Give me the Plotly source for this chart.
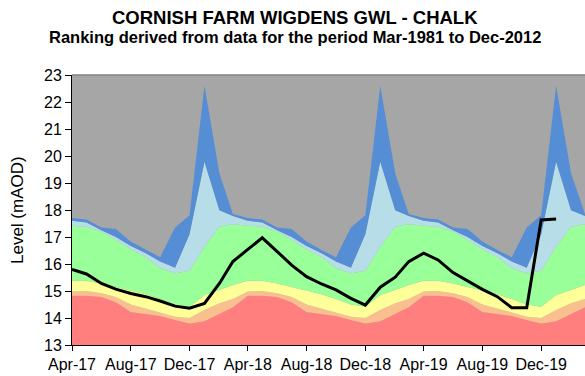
import pandas as pd
import plotly.graph_objects as go

# Monthly dates covered by the chart
band_months = pd.date_range("2017-04-01", "2020-03-01", freq="MS")
level_months = pd.date_range("2017-04-01", "2020-01-01", freq="MS")

# Percentile band upper limits by calendar month (Jan..Dec), mAOD
red_top = [13.88, 14.15, 14.40, 14.82, 14.82, 14.78, 14.58, 14.22, 14.15, 14.07, 13.93, 13.80]
salmon_top = [14.30, 14.55, 14.70, 14.98, 15.00, 14.92, 14.78, 14.50, 14.35, 14.20, 14.05, 14.00]
yellow_top = [14.85, 15.04, 15.22, 15.38, 15.38, 15.28, 15.15, 15.02, 14.88, 14.70, 14.50, 14.42]
green_top = [16.64, 17.38, 17.47, 17.42, 17.38, 17.20, 16.90, 16.55, 16.25, 15.85, 15.65, 15.75]
lightblue_top = [19.79, 17.99, 17.78, 17.60, 17.54, 17.25, 17.00, 16.67, 16.40, 16.09, 15.86, 17.10]
blue_top = [22.60, 19.36, 17.85, 17.70, 17.65, 17.35, 17.30, 16.83, 16.52, 16.25, 17.35, 17.81]

# Observed groundwater level, Apr-2017 .. Jan-2020
level = [15.80, 15.63, 15.28, 15.07, 14.91, 14.79, 14.63, 14.44, 14.36,
         14.54, 15.28, 16.09, 16.54, 16.97, 16.46, 15.96, 15.53, 15.26, 15.04, 14.73, 14.48,
         15.14, 15.51, 16.09, 16.40, 16.15, 15.68, 15.37, 15.06, 14.79, 14.38, 14.38, 17.63,
         17.67]

bands = [
    ("red", red_top, "#FF7F7F"),
    ("salmon", salmon_top, "#FABF8F"),
    ("yellow", yellow_top, "#FFFF99"),
    ("green", green_top, "#99FF99"),
    ("lightblue", lightblue_top, "#B7DDE8"),
    ("blue", blue_top, "#558ED5"),
]

FONT = "Liberation Sans, Arial, sans-serif"

fig = go.Figure()
for i, (name, tops, colour) in enumerate(bands):
    ys = [tops[d.month - 1] for d in band_months]
    fig.add_trace(go.Scatter(
        x=band_months, y=ys, mode="lines", name=name,
        line=dict(width=0, color=colour),
        fill="tozeroy" if i == 0 else "tonexty",
        fillcolor=colour, hoverinfo="skip", showlegend=False,
    ))

fig.add_trace(go.Scatter(
    x=level_months, y=level, mode="lines",
    line=dict(color="black", width=3), showlegend=False,
))

fig.update_layout(
    width=585, height=376,
    margin=dict(l=72, r=0, t=75, b=31),
    paper_bgcolor="white",
    plot_bgcolor="#A6A6A6",
    font=dict(family=FONT, size=16, color="black"),
    xaxis=dict(
        type="date",
        range=["2017-04-01", "2020-03-01"],
        tick0="2017-04-01", dtick="M4", tickformat="%b-%y",
        ticks="outside", ticklen=5, tickcolor="black",
        showline=True, linecolor="black", linewidth=1,
        showgrid=False, zeroline=False,
        tickfont=dict(size=16),
    ),
    yaxis=dict(
        range=[13, 23], dtick=1,
        ticks="outside", ticklen=6, tickcolor="black",
        showline=True, linecolor="black", linewidth=1,
        showgrid=False, zeroline=False,
        tickfont=dict(size=16),
    ),
    shapes=[dict(type="line", xref="paper", yref="paper", x0=0, x1=1, y0=1, y1=1,
                 line=dict(color="#7F7F7F", width=1.5))],
    annotations=[
        dict(text="<b>CORNISH FARM WIGDENS GWL - CHALK</b>", xref="paper", yref="paper",
             x=0.4347, y=1.212, xanchor="center", yanchor="middle", showarrow=False,
             font=dict(size=18.5)),
        dict(text="<b>Ranking derived from data for the period Mar-1981 to Dec-2012</b>",
             xref="paper", yref="paper", x=0.4347, y=1.14, xanchor="center",
             yanchor="middle", showarrow=False, font=dict(size=16.5)),
        dict(text="Level (mAOD)", xref="paper", yref="paper", x=-0.1072, y=0.5,
             xanchor="center", yanchor="middle", textangle=-90, showarrow=False,
             font=dict(size=17)),
    ],
)

fig.write_html("out.html")
